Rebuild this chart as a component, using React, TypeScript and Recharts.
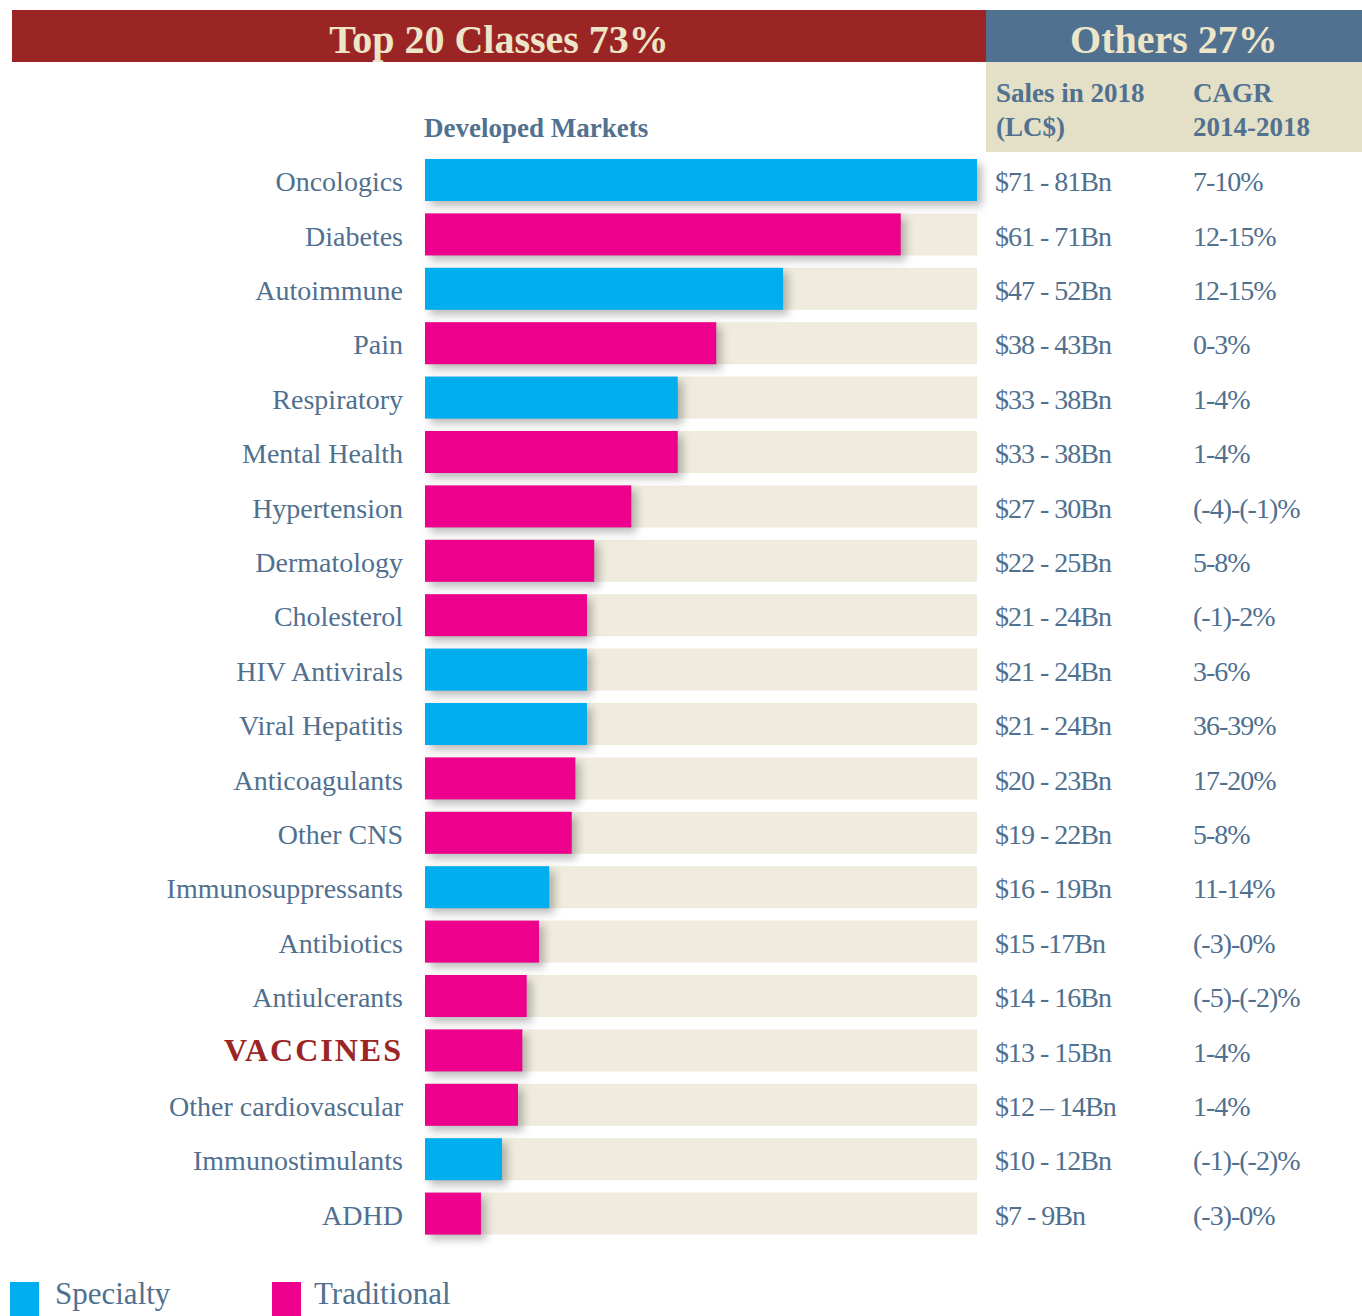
import { BarChart, Bar, XAxis, YAxis, Cell } from 'recharts';

const categories = [
  'Oncologics', 'Diabetes', 'Autoimmune', 'Pain', 'Respiratory', 'Mental Health',
  'Hypertension', 'Dermatology', 'Cholesterol', 'HIV Antivirals', 'Viral Hepatitis',
  'Anticoagulants', 'Other CNS', 'Immunosuppressants', 'Antibiotics', 'Antiulcerants',
  'VACCINES', 'Other cardiovascular', 'Immunostimulants', 'ADHD',
];
// estimated bar length, $Bn
const salesValues = [76, 65.5, 49.3, 40.1, 34.8, 34.8, 28.4, 23.3, 22.3, 22.3, 22.3, 20.7, 20.2, 17.1, 15.7, 14.0, 13.4, 12.8, 10.6, 7.7];
const classTypes = ['S', 'T', 'S', 'T', 'S', 'T', 'T', 'T', 'T', 'S', 'S', 'T', 'T', 'S', 'T', 'T', 'T', 'T', 'S', 'T'];
const salesLabels = [
  '$71 - 81Bn', '$61 - 71Bn', '$47 - 52Bn', '$38 - 43Bn', '$33 - 38Bn', '$33 - 38Bn',
  '$27 - 30Bn', '$22 - 25Bn', '$21 - 24Bn', '$21 - 24Bn', '$21 - 24Bn', '$20 - 23Bn',
  '$19 - 22Bn', '$16 - 19Bn', '$15 -17Bn', '$14 - 16Bn', '$13 - 15Bn', '$12 \u2013 14Bn',
  '$10 - 12Bn', '$7 - 9Bn',
];
const cagrLabels = [
  '7-10%', '12-15%', '12-15%', '0-3%', '1-4%', '1-4%', '(-4)-(-1)%', '5-8%', '(-1)-2%',
  '3-6%', '36-39%', '17-20%', '5-8%', '11-14%', '(-3)-0%', '(-5)-(-2)%', '1-4%', '1-4%',
  '(-1)-(-2)%', '(-3)-0%',
];

const SPECIALTY = '#00adef';
const TRADITIONAL = '#ec008c';
const TEXT = '#50708f';
const RED = '#9b2524';
const SLATE = '#50718f';
const CREAM = '#ede5c8';
const FONT = '"Liberation Serif", "DejaVu Serif", serif';

const data = categories.map((name, i) => ({
  name,
  value: salesValues[i],
  type: classTypes[i],
}));

function LeftTick(props: any) {
  const { x, y, payload } = props;
  const isVaccine = payload.value === 'VACCINES';
  return (
    <text
      x={x}
      y={y}
      dy={isVaccine ? 10 : 11}
      textAnchor="end"
      fontFamily={FONT}
      fontSize={isVaccine ? 32 : 28}
      fontWeight={isVaccine ? 700 : 400}
      letterSpacing={isVaccine ? 2 : 0}
      fill={isVaccine ? RED : TEXT}
    >
      {payload.value}
    </text>
  );
}

function RightTick(props: any) {
  const { x, y, index } = props;
  return (
    <g fontFamily={FONT} fontSize={28} fill={TEXT} letterSpacing={-1}>
      <text x={x + 18} y={y} dy={11}>{salesLabels[index]}</text>
      <text x={x + 216} y={y} dy={11}>{cagrLabels[index]}</text>
    </g>
  );
}

function ShadowBar(props: any) {
  const { x, y, width, height, fill } = props;
  return (
    <rect
      x={x}
      y={y}
      width={width}
      height={height}
      fill={fill}
      style={{ filter: 'drop-shadow(5px 5px 4px rgba(60,60,60,0.35))' }}
    />
  );
}

export default function App() {
  return (
    <div style={{ position: 'absolute', left: 0, top: 0, width: 1362, height: 1316, background: '#fff', overflow: 'hidden', fontFamily: FONT }}>
      {/* header bands */}
      <div style={{ position: 'absolute', left: 12, top: 10, width: 974, height: 52, background: RED, color: CREAM, fontSize: 40, fontWeight: 700, textAlign: 'center', lineHeight: '60px', overflow: 'hidden' }}>
        Top 20 Classes 73%
      </div>
      <div style={{ position: 'absolute', left: 986, top: 10, width: 376, height: 52, background: SLATE, color: CREAM, fontSize: 40, fontWeight: 700, textAlign: 'center', lineHeight: '60px', overflow: 'hidden' }}>
        Others 27%
      </div>
      <div style={{ position: 'absolute', left: 986, top: 62, width: 376, height: 90, background: '#e4dfc7', color: SLATE, fontSize: 27, fontWeight: 700, lineHeight: '34px' }}>
        <div style={{ position: 'absolute', left: 10, top: 14 }}>Sales in 2018<br />(LC$)</div>
        <div style={{ position: 'absolute', left: 207, top: 14 }}>CAGR<br />2014-2018</div>
      </div>
      <div style={{ position: 'absolute', left: 424, top: 111, color: SLATE, fontSize: 27, fontWeight: 700, lineHeight: '34px' }}>
        Developed Markets
      </div>

      <div style={{ position: 'absolute', left: 0, top: 0 }}>
        <BarChart
          width={1362}
          height={1260}
          data={data}
          layout="vertical"
          margin={{ top: 153, right: 0, bottom: 19, left: 0 }}
        >
          <XAxis type="number" domain={[0, 76]} hide />
          <YAxis
            yAxisId="left"
            type="category"
            dataKey="name"
            width={425}
            axisLine={false}
            tickLine={false}
            tickSize={0}
            tickMargin={22}
            tick={<LeftTick />}
            interval={0}
          />
          <YAxis
            yAxisId="right"
            orientation="right"
            type="category"
            dataKey="name"
            width={385}
            axisLine={false}
            tickLine={false}
            tickSize={0}
            tickMargin={0}
            tick={<RightTick />}
            interval={0}
          />
          <Bar
            yAxisId="left"
            dataKey="value"
            barSize={42}
            background={{ fill: '#efebdd' }}
            shape={<ShadowBar />}
            isAnimationActive={false}
          >
            {data.map((d, i) => (
              <Cell key={i} fill={d.type === 'S' ? SPECIALTY : TRADITIONAL} />
            ))}
          </Bar>
        </BarChart>
      </div>

      {/* legend */}
      <div style={{ position: 'absolute', left: 10, top: 1282, width: 29, height: 34, background: SPECIALTY }} />
      <div style={{ position: 'absolute', left: 55, top: 1276, color: SLATE, fontSize: 31, lineHeight: '36px' }}>Specialty</div>
      <div style={{ position: 'absolute', left: 272, top: 1282, width: 29, height: 34, background: TRADITIONAL }} />
      <div style={{ position: 'absolute', left: 314, top: 1276, color: SLATE, fontSize: 31, lineHeight: '36px' }}>Traditional</div>
    </div>
  );
}
